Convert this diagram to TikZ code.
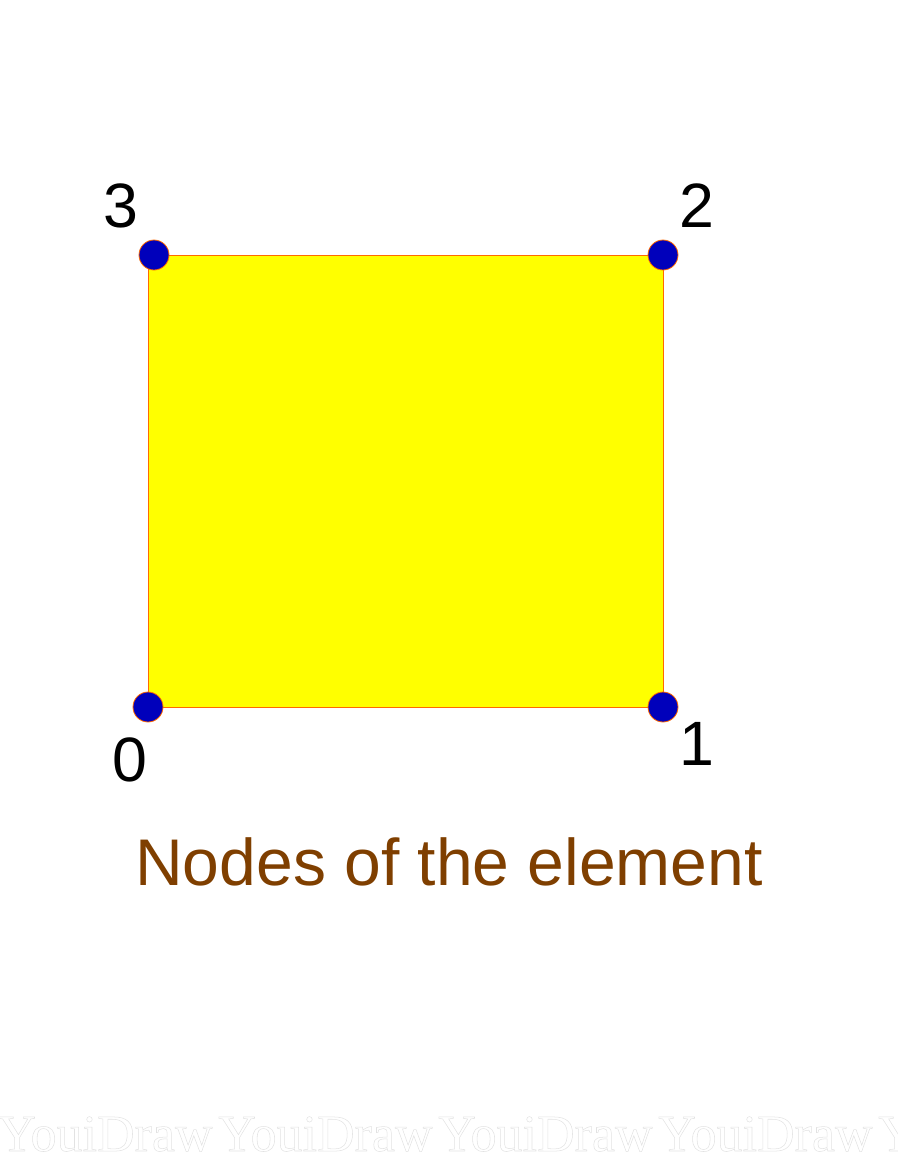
\documentclass[tikz,border=0pt]{standalone}
\usepackage{fontspec}
\setmainfont{Liberation Sans}
\newfontfamily\wmfont{Liberation Serif}
\usetikzlibrary{positioning}
\definecolor{elemfill}{HTML}{FFFF00}
\definecolor{elemedge}{HTML}{FF6A00}
\definecolor{nodeblue}{HTML}{0000BB}
\definecolor{captionbrown}{HTML}{7F3F00}
\definecolor{wmgray}{HTML}{E2E2E2}

\begin{document}
\begin{tikzpicture}[
    x=0.75pt, y=-0.75pt,
    element/.style={fill=elemfill, draw=elemedge, line width=0.6pt},
    vertex/.style={circle, fill=nodeblue, draw=elemedge, line width=0.6pt,
                   minimum size=22.5pt, inner sep=0pt},
    num/.style={font=\fontsize{47}{56}\selectfont, text=black, inner sep=0pt},
    caption/.style={font=\fontsize{49.5}{60}\selectfont, text=captionbrown, inner sep=0pt},
    wmark/.style={font=\wmfont\fontsize{39}{46}\selectfont, text=wmgray, inner sep=0pt, anchor=base west}
]
\useasboundingbox (0,0) rectangle (897,1161);

% --- corners ---
\coordinate (c0) at (148,707);
\coordinate (c1) at (663,707);
\coordinate (c2) at (663,255);
\coordinate (c3) at (148,255);

% --- element ---
\draw[element] (c0) rectangle (c2);

% --- nodes ---
\node[vertex] (n0) at (c0) {};
\node[vertex] (n1) at (c1) {};
\node[vertex] (n2) at (c2) {};
\node[vertex] (n3) at (154,255) {};

% --- numbers ---
\node[num] (l0) at (130,760) {0};
\node[num] (l1) at (697,744) {1};
\node[num] (l2) at (697,206) {2};
\node[num] (l3) at (121,206) {3};

% --- caption ---
\node[caption] (title) at (449,862) {Nodes of the element};

% --- watermark ---
\foreach \i in {0,...,4}
  \node[wmark] (wm\i) at (-2+220*\i,1151) {\special{pdf:literal direct 1 Tr 0.4 w}YouiDraw\special{pdf:literal direct 0 Tr}};

\end{tikzpicture}
\end{document}
